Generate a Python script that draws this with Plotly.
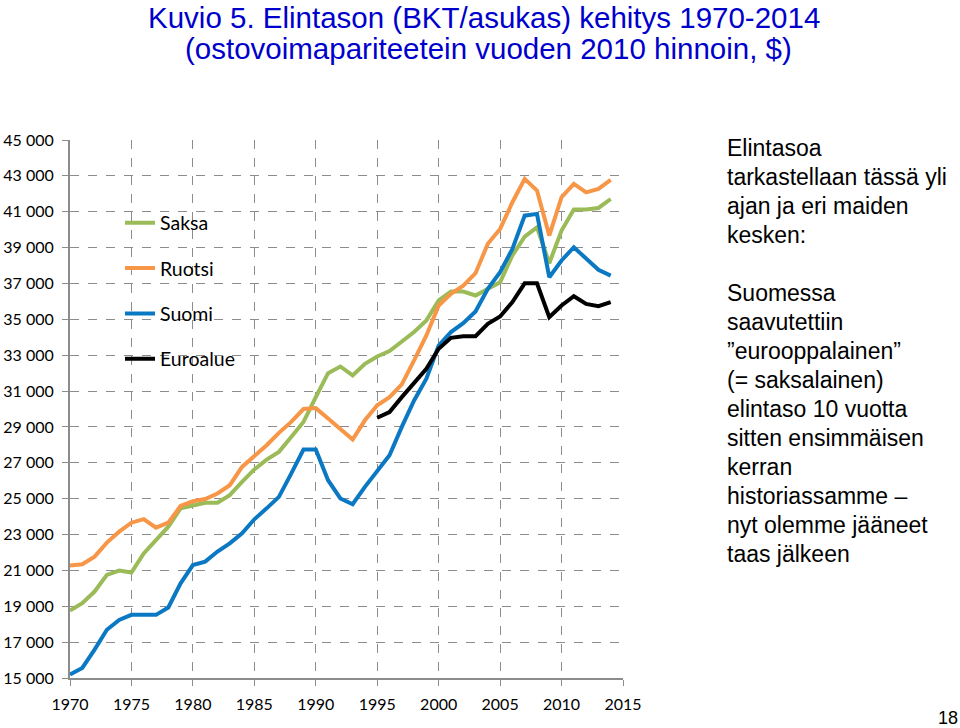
import plotly.graph_objects as go

years = list(range(1970, 2015))
euro_years = list(range(1995, 2015))

saksa = [18760, 19170, 19820, 20750, 20990, 20880, 21950, 22700, 23440, 24460,
         24640, 24770, 24770, 25200, 25940, 26630, 27180, 27610, 28440, 29280,
         30660, 32000, 32370, 31870, 32520, 32930, 33230, 33730, 34290, 34940,
         36050, 36550, 36550, 36330, 36700, 37070, 38560, 39610, 40130, 38130,
         39950, 41120, 41120, 41210, 41710]
ruotsi = [21270, 21340, 21770, 22550, 23160, 23660, 23860, 23380, 23660, 24590,
          24860, 24980, 25290, 25750, 26770, 27370, 27980, 28670, 29280, 30000,
          30050, 29470, 28910, 28300, 29370, 30210, 30660, 31370, 32710, 34100,
          35770, 36420, 36880, 37570, 39210, 40040, 41530, 42830, 42180, 39670,
          41810, 42550, 42080, 42270, 42770]
suomi = [15190, 15560, 16580, 17690, 18240, 18520, 18520, 18520, 18930, 20280,
         21300, 21490, 22050, 22510, 23070, 23850, 24460, 25100, 26400, 27740,
         27740, 26030, 25010, 24690, 25660, 26550, 27420, 29000, 30480, 31690,
         33540, 34290, 34790, 35440, 36700, 37630, 38930, 40780, 40880, 37350,
         38280, 39020, 38370, 37760, 37440]
euroalue = [29510, 29830, 30660, 31460, 32240, 33360, 33970, 34060, 34060, 34750,
            35160, 35960, 37010, 37010, 35120, 35770, 36290, 35860, 35730, 35960]

y_tickvals = list(range(15000, 45001, 2000))
y_ticktext = ["15 000", "17 000", "19 000", "21 000", "23 000", "25 000", "27 000",
              "29 000", "31 000", "33 000", "35 000", "37 000", "39 000", "41 000",
              "43 000", "45 000"]
x_tickvals = list(range(1970, 2016, 5))

title_lines = ["Kuvio 5. Elintason (BKT/asukas) kehitys 1970-2014",
               "(ostovoimapariteetein vuoden 2010 hinnoin, $)"]
side_text = ["Elintasoa", "tarkastellaan tässä yli", "ajan ja eri maiden", "kesken:", "",
             "Suomessa", "saavutettiin", "”eurooppalainen”", "(= saksalainen)",
             "elintaso 10 vuotta", "sitten ensimmäisen", "kerran",
             "historiassamme –", "nyt olemme jääneet", "taas jälkeen"]
page_number = "18"

series = [
    ("Saksa", years, saksa, "#9BBB59"),
    ("Ruotsi", years, ruotsi, "#F79646"),
    ("Suomi", years, suomi, "#0A78C2"),
    ("Euroalue", euro_years, euroalue, "#000000"),
]

# plot area in pixels
PL, PR, PT, PB = 70, 623, 140, 678
PW, PH = PR - PL, PB - PT


def px(x):
    return (x - PL) / PW


def py(y):
    return (PB - y) / PH


fig = go.Figure()
for i, (name, xs, ys, col) in enumerate(series):
    fig.add_trace(go.Scatter(x=xs, y=ys, name=name, mode="lines",
                             line=dict(color=col, width=4),
                             legendgroup=f"g{i}"))

grid = dict(showgrid=True, gridcolor="#8c8c8c", gridwidth=1.3, griddash="dash")
tickfont = dict(family="Lato", size=16, color="#000")
fig.update_xaxes(range=[1970, 2015], tickvals=x_tickvals, ticks="outside",
                 ticklen=6, tickcolor="#8c8c8c", showline=True, linecolor="#8c8c8c",
                 linewidth=2, tickfont=tickfont, ticklabelstandoff=5,
                 zeroline=False, automargin=False, **grid)
fig.update_yaxes(range=[15000, 45000], tickvals=y_tickvals, ticktext=y_ticktext,
                 ticks="outside", ticklen=6, tickcolor="#8c8c8c", showline=True,
                 linecolor="#8c8c8c", linewidth=2, tickfont=tickfont,
                 ticklabelstandoff=5, zeroline=False, automargin=False, **grid)

# white box behind the legend hiding the gridlines
fig.add_shape(type="rect", xref="paper", yref="paper",
              x0=px(97), x1=px(265), y0=py(378), y1=py(198),
              fillcolor="white", line=dict(width=0), layer="between")

fig.update_layout(
    width=960, height=728,
    margin=dict(l=PL, r=960 - PR, t=PT, b=728 - PB, autoexpand=False),
    paper_bgcolor="white", plot_bgcolor="white",
    showlegend=True,
    legend=dict(x=px(120), y=py(203.5), xanchor="left", yanchor="top",
                bgcolor="rgba(0,0,0,0)", tracegroupgap=17,
                font=dict(family="Lato", size=19.5, color="#000")),
)

title_font = dict(family="Liberation Sans", size=29.5, color="#0000CC")
fig.add_annotation(text=title_lines[0], xref="paper", yref="paper",
                   x=px(484), y=py(-1), showarrow=False,
                   xanchor="center", yanchor="top", font=title_font)
fig.add_annotation(text=title_lines[1], xref="paper", yref="paper",
                   x=px(488), y=py(30), showarrow=False,
                   xanchor="center", yanchor="top", font=title_font)

for i, line in enumerate(side_text):
    if not line:
        continue
    ypix = 148 + i * 29.0
    fig.add_annotation(text=line, xref="paper", yref="paper",
                       x=px(725), y=py(ypix), showarrow=False,
                       xanchor="left", yanchor="middle",
                       font=dict(family="Liberation Sans", size=23, color="#000"))

fig.add_annotation(text=page_number, xref="paper", yref="paper",
                   x=px(960), y=py(718), showarrow=False,
                   xanchor="right", yanchor="middle",
                   font=dict(family="Liberation Sans", size=18, color="#000"))

fig.write_html("out.html")
